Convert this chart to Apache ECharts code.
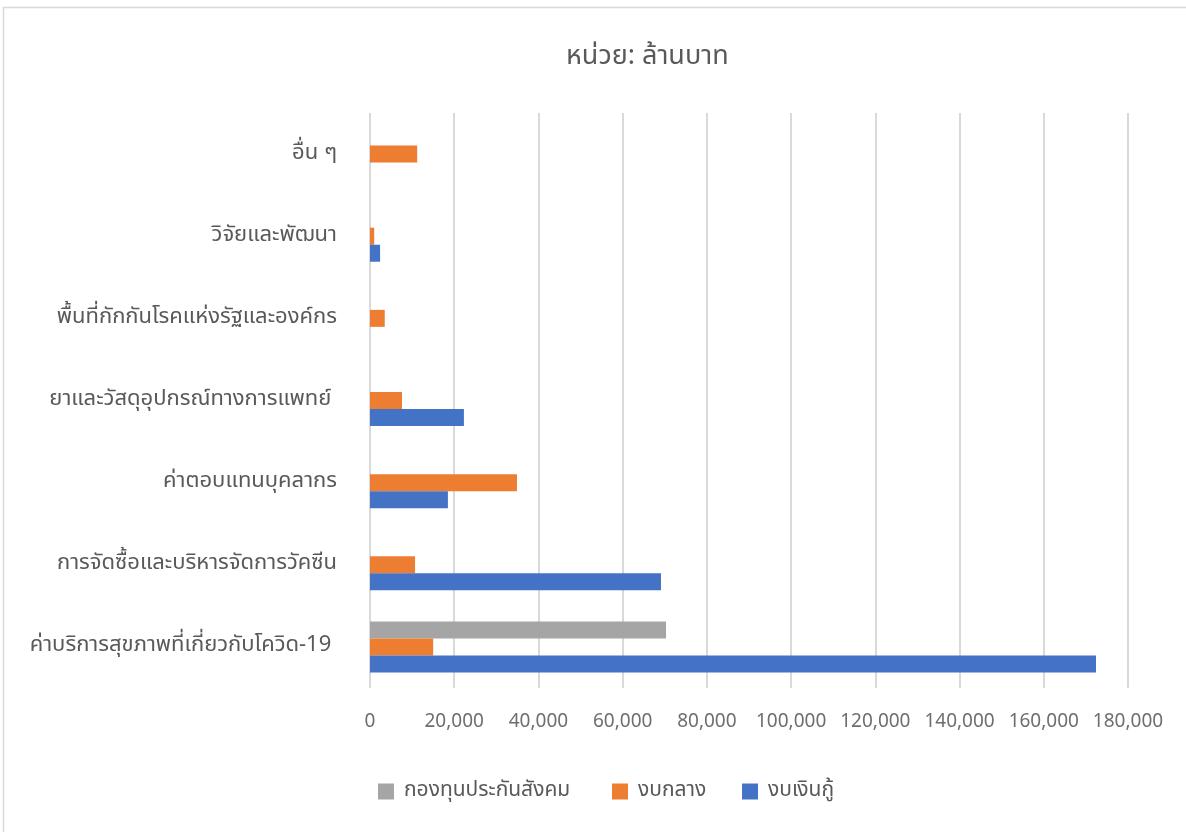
<!DOCTYPE html>
<html>
<head>
<meta charset="utf-8">
<script src="https://cdn.jsdelivr.net/npm/echarts@6/dist/echarts.min.js"></script>
<style>
  html, body { margin: 0; padding: 0; background: #fff; }
  #chart { width: 1186px; height: 832px; }
</style>
</head>
<body>
<div id="chart"></div>
<script>
// Budget categories, listed bottom to top on the axis
const categories = [
  'ค่าบริการสุขภาพที่เกี่ยวกับโควิด-19 ',
  'การจัดซื้อและบริหารจัดการวัคซีน',
  'ค่าตอบแทนบุคลากร',
  'ยาและวัสดุอุปกรณ์ทางการแพทย์ ',
  'พื้นที่กักกันโรคแห่งรัฐและองค์กร',
  'วิจัยและพัฒนา',
  'อื่น ๆ'
];

// Amounts in million baht, same order as categories
const socialSecurityFund = [70300, null, null, null, null, null, null];
const centralBudget = [15000, 10700, 34900, 7600, 3500, 1000, 11200];
const loanBudget = [172400, 69100, 18500, 22300, null, 2400, null];

const seriesNames = ['กองทุนประกันสังคม', 'งบกลาง', 'งบเงินกู้'];
const xTicks = { min: 0, max: 180000, interval: 20000 };

const FONT = '"Noto Sans Thai", "Leelawadee UI", Tahoma, "DejaVu Sans", sans-serif';
const TEXT = '#595959';

const chart = echarts.init(document.getElementById('chart'), null, { renderer: 'canvas' });

const barCommon = { type: 'bar', barWidth: 17, barGap: '0%' };

// one legend block per series so each entry sits at its own spot
const legendLefts = [378, 612, 742];
const legends = seriesNames.map((name, i) => ({
  data: [name],
  top: 781,
  left: legendLefts[i],
  padding: 0,
  itemWidth: 16,
  itemHeight: 16,
  icon: 'rect',
  textStyle: { fontFamily: FONT, fontSize: 21, color: TEXT, padding: [0, 0, 0, 5] }
}));

chart.setOption({
  animation: false,
  backgroundColor: '#ffffff',
  textStyle: { fontFamily: FONT },
  title: {
    text: 'หน่วย: ล้านบาท',
    left: 561,
    top: 40,
    textStyle: { fontFamily: FONT, fontSize: 27, fontWeight: 'normal', color: TEXT }
  },
  graphic: [{
    type: 'rect',
    shape: { x: 3.5, y: 7.5, width: 1400, height: 1000 },
    style: { fill: 'none', stroke: '#d9d9d9', lineWidth: 1.5 },
    silent: true
  }],
  legend: legends,
  grid: { left: 370, right: 58, top: 113, bottom: 144, containLabel: false },
  xAxis: {
    type: 'value',
    min: xTicks.min,
    max: xTicks.max,
    interval: xTicks.interval,
    axisLine: { show: false },
    axisTick: { show: false },
    axisLabel: {
      margin: 26,
      fontFamily: FONT,
      fontSize: 19,
      color: '#6e6e6e',
      formatter: v => v.toLocaleString('en-US')
    },
    splitLine: { show: true, lineStyle: { color: '#d9d9d9', width: 2 } }
  },
  yAxis: {
    type: 'category',
    data: categories,
    axisLine: { show: false },
    axisTick: { show: false },
    axisLabel: {
      margin: 33,
      fontFamily: FONT,
      fontSize: 22,
      color: TEXT
    },
    splitLine: { show: false }
  },
  series: [
    Object.assign({}, barCommon, {
      name: seriesNames[0],
      data: socialSecurityFund,
      itemStyle: { color: '#a5a5a5' }
    }),
    Object.assign({}, barCommon, {
      name: seriesNames[1],
      data: centralBudget,
      itemStyle: { color: '#ed7d31' }
    }),
    Object.assign({}, barCommon, {
      name: seriesNames[2],
      data: loanBudget,
      itemStyle: { color: '#4472c4' }
    })
  ]
});
</script>
</body>
</html>
